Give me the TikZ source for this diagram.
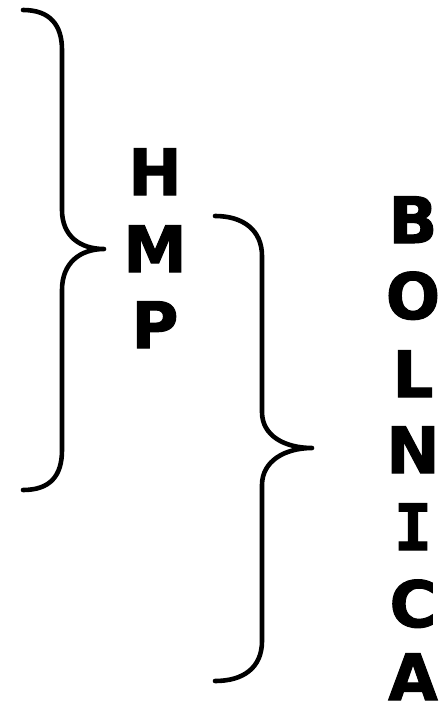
\documentclass[tikz,border=0pt]{standalone}
\usepackage{fontspec}
\setmainfont{DejaVu Sans}
\newfontfamily\heavyfont[FakeBold=1.6]{DejaVu Sans Bold}
\newfontfamily\heavymono[FakeBold=1.6]{DejaVu Sans Mono Bold}
\begin{document}
\begin{tikzpicture}[x=1pt,y=-1pt,
  brace/.style={line width=4.6pt,line cap=round,line join=round},
  letter/.style={inner sep=0pt,anchor=base,font=\fontsize{64}{77}\heavyfont}]
\useasboundingbox (0,0) rectangle (445,706);
% left brace
\draw[brace] (23,10) .. controls (50,10) and (62,25) .. (62,50) -- (62,210)
  .. controls (62,236) and (80,249) .. (104,249)
  .. controls (80,249) and (62,263) .. (62,290) -- (62,450)
  .. controls (62,476) and (50,490) .. (23,490);
% right brace
\draw[brace] (215,216) .. controls (243,216) and (262,230) .. (262,256) -- (262,412)
  .. controls (262,436) and (285,448) .. (312,448)
  .. controls (285,448) and (262,461) .. (262,485) -- (262,641)
  .. controls (262,668) and (243,681) .. (215,681);
% left letters
\node[letter] (h) at (155,195) {H};
\node[letter] (m) at (155,272) {M};
\node[letter] (p) at (155,348) {P};
% right letters
\node[letter] (b) at (413,243) {B};
\node[letter] (o) at (413,319) {O};
\node[letter] (l) at (413,397) {L};
\node[letter] (n) at (413,473) {N};
\node[letter,font=\fontsize{64}{77}\heavymono] (i) at (413,550) {I};
\node[letter] (c) at (413,627) {C};
\node[letter] (a) at (413,700) {A};
\end{tikzpicture}
\end{document}
